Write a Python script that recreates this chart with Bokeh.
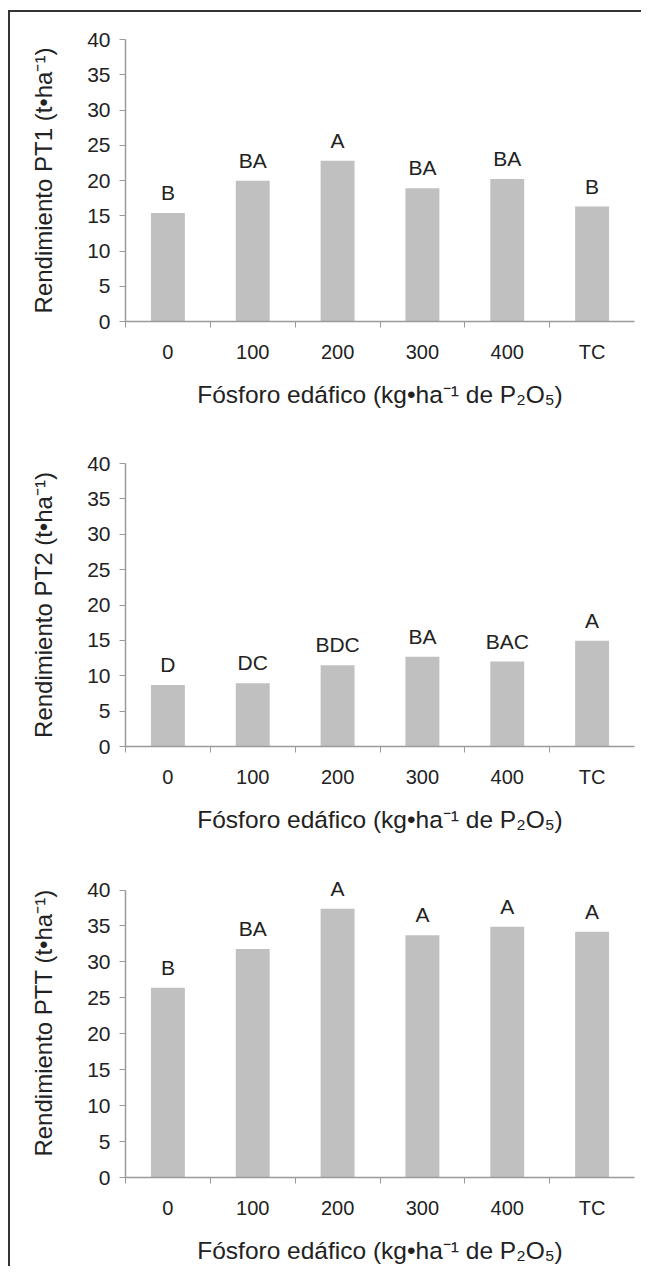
from bokeh.plotting import figure
from bokeh.layouts import column
from bokeh.models import Range1d, FixedTicker, ColumnDataSource, LabelSet
from bokeh.core.properties import value
from bokeh.embed import file_html
from bokeh.resources import INLINE

categories = ["0", "100", "200", "300", "400", "TC"]
pt1_values = [15.4, 19.95, 22.8, 18.9, 20.2, 16.3]
pt1_letters = ["B", "BA", "A", "BA", "BA", "B"]
pt2_values = [8.7, 8.95, 11.5, 12.7, 12.0, 14.95]
pt2_letters = ["D", "DC", "BDC", "BA", "BAC", "A"]
ptt_values = [26.4, 31.8, 37.4, 33.7, 34.9, 34.2]
ptt_letters = ["B", "BA", "A", "A", "A", "A"]
y_ticks = [0, 5, 10, 15, 20, 25, 30, 35, 40]
y_titles = ["Rendimiento PT1 (t\u2022ha\u207b\u00b9)",
            "Rendimiento PT2 (t\u2022ha\u207b\u00b9)",
            "Rendimiento PTT (t\u2022ha\u207b\u00b9)"]
x_title = "F\u00f3sforo ed\u00e1fico (kg\u2022ha\u207b\u00b9 de P\u2082O\u2085)"

FONT = "Liberation Sans"
TXT = "#222222"
AX = "#9a9a9a"
BAR = "#c0c0c0"


def make_chart(vals, letters, ytitle, height, bl, bt, bb, br, ymax):
    n = len(categories)
    centers = [i + 0.5 for i in range(n)]
    src = ColumnDataSource(dict(x=centers, top=vals, lab=letters))
    p = figure(width=631, height=height, output_backend="svg", toolbar_location=None,
               x_range=Range1d(0, n), y_range=Range1d(0, ymax),
               min_border_left=bl, min_border_top=bt, min_border_bottom=bb,
               min_border_right=br)
    p.vbar(x="x", top="top", width=0.4, bottom=0, source=src,
           fill_color=BAR, line_color=None)
    labels = LabelSet(x="x", y="top", text="lab", source=src, text_align="center",
                      text_baseline="alphabetic", y_offset=13,
                      text_font_size=value("21px"), text_font=value(FONT),
                      text_color=TXT)
    p.add_layout(labels)
    p.grid.visible = False
    p.outline_line_color = None
    p.background_fill_color = "white"
    p.border_fill_color = "white"

    xa = p.xaxis[0]
    xa.ticker = FixedTicker(ticks=centers, minor_ticks=list(range(n)))
    xa.major_label_overrides = {c: lab for c, lab in zip(centers, categories)}
    xa.major_tick_line_color = None
    xa.major_tick_out = 0
    xa.major_tick_in = 0
    xa.minor_tick_out = 6
    xa.minor_tick_in = 0
    xa.minor_tick_line_color = AX
    xa.axis_line_color = AX
    xa.axis_line_width = 1.5
    xa.major_label_text_font = FONT
    xa.major_label_text_font_size = "20px"
    xa.major_label_text_color = TXT
    xa.major_label_standoff = 13
    xa.axis_label = x_title
    xa.axis_label_text_font = FONT
    xa.axis_label_text_font_size = "24.5px"
    xa.axis_label_text_font_style = "normal"
    xa.axis_label_text_color = TXT
    xa.axis_label_standoff = 15

    ya = p.yaxis[0]
    ya.ticker = FixedTicker(ticks=y_ticks, minor_ticks=[])
    ya.bounds = (0, 40)
    ya.major_tick_out = 6
    ya.major_tick_in = 0
    ya.major_tick_line_color = AX
    ya.axis_line_color = AX
    ya.axis_line_width = 1.5
    ya.major_label_text_font = FONT
    ya.major_label_text_font_size = "21px"
    ya.major_label_text_color = TXT
    ya.major_label_standoff = 9
    ya.axis_label = ytitle
    ya.axis_label_text_font = FONT
    ya.axis_label_text_font_size = "24px"
    ya.axis_label_text_font_style = "normal"
    ya.axis_label_text_color = TXT
    ya.axis_label_standoff = 27
    return p


p1 = make_chart(pt1_values, pt1_letters, y_titles[0], 428, 115, 27, 119, 6, 40)
p2 = make_chart(pt2_values, pt2_letters, y_titles[1], 422, 111, 23, 116, 7, 40)
p3 = make_chart(ptt_values, ptt_letters, y_titles[2], 404, 111, 6, 89, 7, 43)

layout = column(p1, p2, p3, spacing=0,
                styles={"border-top": "2px solid #333", "border-left": "2px solid #333",
                        "margin-top": "10px", "margin-left": "8px"})

open("out.html", "w").write(file_html(layout, INLINE))
